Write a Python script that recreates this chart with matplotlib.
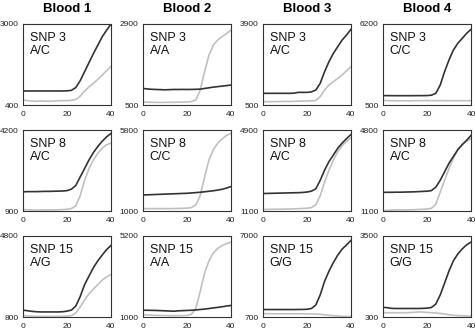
import matplotlib
matplotlib.use("Agg")
import matplotlib.pyplot as plt

plt.rcParams["font.family"] = ["Liberation Sans", "DejaVu Sans"]

# ── data (cycles 0..40 step 2) ───────────────────────────────────────────────
CYCLES = list(range(0, 41, 2))
BLOODS = ["Blood 1", "Blood 2", "Blood 3", "Blood 4"]
SNPS = ["SNP 3", "SNP 8", "SNP 15"]

GENOTYPES = [
    ["A/C", "A/A", "A/C", "C/C"],
    ["A/C", "C/C", "A/C", "A/C"],
    ["A/G", "A/A", "G/G", "G/G"],
]
YMIN = [
    [400, 500, 500, 500],
    [900, 1000, 1100, 1100],
    [800, 1000, 700, 300],
]
YMAX = [
    [3000, 2900, 3900, 6200],
    [4200, 5800, 4900, 4800],
    [4800, 5200, 7000, 3500],
]

# SNP 3
dark_snp3_b1 = [850, 850, 850, 850, 850, 850, 850, 850, 850, 850, 855,
                870, 960, 1180, 1470, 1760, 2050, 2320, 2590, 2800, 3000]
light_snp3_b1 = [560, 540, 530, 520, 530, 525, 520, 530, 535, 540, 540,
                 550, 580, 680, 850, 980, 1100, 1220, 1360, 1500, 1640]
dark_snp3_b2 = [990, 975, 965, 960, 955, 950, 955, 960, 960, 962, 960,
                962, 965, 970, 990, 1010, 1030, 1045, 1060, 1075, 1090]
light_snp3_b2 = [590, 585, 580, 580, 575, 580, 580, 580, 585, 585, 590,
                 600, 650, 940, 1490, 1980, 2280, 2430, 2530, 2620, 2720]
dark_snp3_b3 = [990, 990, 990, 990, 990, 990, 990, 995, 1030, 1030, 1030,
                1050, 1130, 1410, 1900, 2320, 2670, 2950, 3230, 3440, 3680]
light_snp3_b3 = [640, 640, 640, 645, 645, 650, 650, 655, 660, 665, 670,
                 675, 690, 850, 1130, 1340, 1480, 1620, 1760, 1940, 2110]
dark_snp3_b4 = [1160, 1160, 1157, 1155, 1155, 1155, 1155, 1157, 1160, 1160, 1165,
                1190, 1320, 1900, 2850, 3670, 4370, 4840, 5190, 5540, 5820]
light_snp3_b4 = [820, 810, 805, 800, 795, 800, 790, 805, 810, 805, 810,
                 805, 805, 810, 805, 800, 805, 805, 800, 800, 805]

# SNP 8
dark_snp8_b1 = [1680, 1690, 1690, 1690, 1695, 1700, 1700, 1705, 1710, 1715, 1730,
                1790, 1940, 2290, 2630, 2980, 3280, 3530, 3740, 3920, 4060]
light_snp8_b1 = [960, 950, 940, 940, 940, 940, 945, 945, 950, 960, 970,
                 1000, 1110, 1520, 2150, 2630, 2980, 3250, 3460, 3600, 3670]
dark_snp8_b2 = [1950, 1960, 1970, 1980, 1990, 2000, 2010, 2020, 2030, 2040, 2050,
                2070, 2090, 2110, 2140, 2170, 2200, 2240, 2290, 2360, 2450]
light_snp8_b2 = [1150, 1140, 1140, 1140, 1140, 1140, 1140, 1145, 1150, 1160, 1170,
                 1200, 1360, 1910, 3020, 4030, 4630, 5030, 5280, 5480, 5600]
dark_snp8_b3 = [1920, 1925, 1930, 1935, 1940, 1945, 1950, 1955, 1960, 1970, 1990,
                2030, 2140, 2540, 3020, 3420, 3730, 4050, 4290, 4500, 4690]
light_snp8_b3 = [1170, 1175, 1180, 1180, 1185, 1190, 1195, 1200, 1210, 1220, 1230,
                 1260, 1390, 1820, 2460, 3020, 3490, 3890, 4170, 4370, 4530]
dark_snp8_b4 = [1950, 1955, 1955, 1960, 1960, 1965, 1970, 1975, 1985, 1995, 2005,
                2030, 2190, 2500, 2890, 3280, 3590, 3900, 4130, 4330, 4550]
light_snp8_b4 = [1110, 1130, 1140, 1150, 1150, 1150, 1155, 1160, 1170, 1180, 1190,
                 1220, 1410, 1960, 2500, 3040, 3510, 3900, 4130, 4290, 4400]

# SNP 15
dark_snp15_b1 = [1140, 1110, 1080, 1060, 1050, 1050, 1050, 1050, 1050, 1060, 1090,
                 1140, 1340, 1810, 2400, 2820, 3240, 3570, 3860, 4130, 4330]
light_snp15_b1 = [880, 850, 840, 830, 830, 830, 830, 830, 830, 835, 845,
                  870, 1000, 1300, 1640, 1940, 2180, 2400, 2620, 2780, 2900]
dark_snp15_b2 = [1350, 1350, 1345, 1340, 1330, 1320, 1310, 1300, 1320, 1330, 1340,
                 1350, 1365, 1390, 1410, 1440, 1470, 1500, 1530, 1570, 1600]
light_snp15_b2 = [1120, 1105, 1095, 1085, 1080, 1075, 1070, 1070, 1070, 1070, 1080,
                  1140, 1440, 2320, 3290, 3910, 4320, 4560, 4710, 4810, 4880]
dark_snp15_b3 = [1280, 1280, 1280, 1280, 1280, 1280, 1280, 1280, 1285, 1290, 1300,
                 1360, 1630, 2420, 3480, 4270, 4940, 5520, 5990, 6310, 6660]
light_snp15_b3 = [960, 955, 955, 950, 950, 950, 950, 950, 950, 950, 945,
                  940, 930, 910, 870, 830, 800, 780, 750, 740, 730]
dark_snp15_b4 = [680, 670, 640, 636, 636, 636, 636, 636, 636, 640, 650,
                 676, 810, 1170, 1640, 2120, 2520, 2790, 2990, 3150, 3260]
light_snp15_b4 = [475, 470, 470, 470, 470, 470, 475, 485, 500, 495, 480,
                  470, 460, 440, 420, 390, 370, 355, 350, 340, 330]

DARK = [
    [dark_snp3_b1, dark_snp3_b2, dark_snp3_b3, dark_snp3_b4],
    [dark_snp8_b1, dark_snp8_b2, dark_snp8_b3, dark_snp8_b4],
    [dark_snp15_b1, dark_snp15_b2, dark_snp15_b3, dark_snp15_b4],
]
LIGHT = [
    [light_snp3_b1, light_snp3_b2, light_snp3_b3, light_snp3_b4],
    [light_snp8_b1, light_snp8_b2, light_snp8_b3, light_snp8_b4],
    [light_snp15_b1, light_snp15_b2, light_snp15_b3, light_snp15_b4],
]

# ── layout (pixels) ──────────────────────────────────────────────────────────
W, H = 475, 331
LEFTS = [23, 143, 263, 383]
TOPS = [24, 130, 236]
AX_W, AX_H = 88, 81

fig = plt.figure(figsize=(W / 100, H / 100), dpi=100)

for r in range(3):
    for c in range(4):
        ax = fig.add_axes([LEFTS[c] / W, 1 - (TOPS[r] + AX_H) / H, AX_W / W, AX_H / H])
        ax.plot(CYCLES, LIGHT[r][c], color="#c0c0c0", lw=1.2)
        ax.plot(CYCLES, DARK[r][c], color="#333333", lw=1.2)
        ax.set_xlim(0, 40)
        ax.set_ylim(YMIN[r][c], YMAX[r][c])
        ax.set_xticks([0, 20, 40])
        ax.set_yticks([YMIN[r][c], YMAX[r][c]])
        ax.tick_params(length=0, labelsize=6, colors="#222222")
        ax.tick_params(axis="x", pad=4.5)
        ax.tick_params(axis="y", pad=3)
        for s in ax.spines.values():
            s.set_color("#333333")
            s.set_linewidth(0.8)
        ax.text(0.075, 0.9, f"{SNPS[r]}\n{GENOTYPES[r][c]}", transform=ax.transAxes,
                ha="left", va="top", fontsize=9, color="#111111", linespacing=1.15)
        if r == 0:
            ax.set_title(BLOODS[c], fontsize=9.5, fontweight="bold", pad=9)

fig.savefig("out.png", dpi=100)
